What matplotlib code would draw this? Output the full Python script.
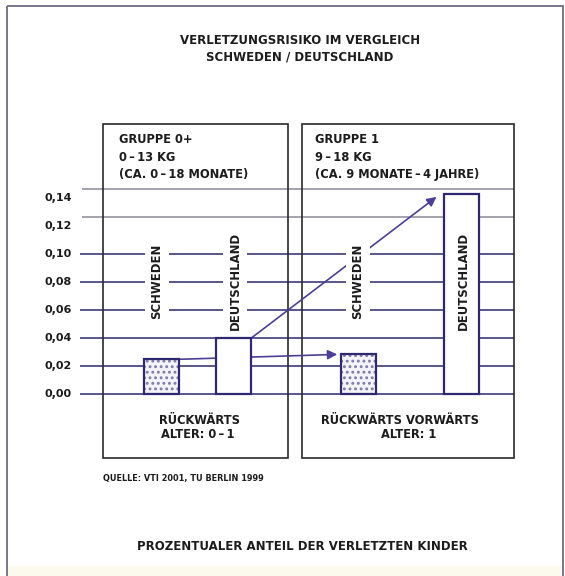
import matplotlib
matplotlib.use('Agg')
import matplotlib.pyplot as plt
from matplotlib.patches import Rectangle
from matplotlib.transforms import Affine2D

# data
groups = ['GRUPPE 0+', 'GRUPPE 1']
countries = ['SCHWEDEN', 'DEUTSCHLAND']
risk_g0 = [0.025, 0.040]
risk_g1 = [0.029, 0.143]
ticks = [0.00, 0.02, 0.04, 0.06, 0.08, 0.10, 0.12, 0.14]
tick_labels = ['0,00', '0,02', '0,04', '0,06', '0,08', '0,10', '0,12', '0,14']
group_info = [['GRUPPE 0+', '0\u2009–\u200913 KG', '(CA. 0\u2009–\u200918 MONATE)'],
              ['GRUPPE 1', '9\u2009–\u200918 KG', '(CA. 9 MONATE\u2009–\u20094 JAHRE)']]
group_foot = [['RÜCKWÄRTS', 'ALTER: 0\u2009–\u20091'],
              ['RÜCKWÄRTS VORWÄRTS', 'ALTER: 1']]
title = 'VERLETZUNGSRISIKO IM VERGLEICH\nSCHWEDEN / DEUTSCHLAND'
source = 'QUELLE: VTI 2001, TU BERLIN 1999'
subtitle = 'PROZENTUALER ANTEIL DER VERLETZTEN KINDER'

W, H = 565, 576
NAVY = '#2e2870'
ARROW = '#4b3f99'
DOTS = '#7d79ab'
INK = '#1c1c1c'
plt.rcParams['font.family'] = ['DejaVu Sans']
plt.rcParams['hatch.linewidth'] = 1.3

fig = plt.figure(figsize=(W / 100, H / 100), dpi=100)
ax = fig.add_axes([0, 0, 1, 1])
ax.set_xlim(0, W)
# y=0 at pixel row 394, 0.02 per 28 px
y0_px, step_px = 394.3, 28.0
ax.set_ylim(-(H - y0_px) / step_px * 0.02, y0_px / step_px * 0.02)
ax.axis('off')

# pixel coordinates (origin top left)
px = Affine2D().scale(1 / W, -1 / H).translate(0, 1) + fig.transFigure

# outer frame and faint bottom band
fig.patches.append(Rectangle((8, 566), 554, 12, transform=px, facecolor='#fbfaec',
                             edgecolor='none', zorder=0))
fig.patches.append(Rectangle((7, 6), 556, 580, transform=px, fill=False,
                             edgecolor='#6c6b86', lw=1.3, zorder=1))

# group panels
panels = [(103, 288), (302, 514)]
for (x0, x1) in panels:
    ax.add_patch(Rectangle((x0, 124), x1 - x0, 334, transform=px, fill=False,
                           edgecolor='#2a2a2a', lw=1.2, zorder=2))

# grid lines; upper two drawn a bit higher and lighter as in the print
shift = 0.0068
for t, lab in zip(ticks, tick_labels):
    if t > 0.11:
        ax.hlines(t + shift, 82, 514, color='#8a8a98', lw=1.1, zorder=1)
    else:
        ax.hlines(t, 80, 514, color=NAVY, lw=1.1, zorder=1)
    ax.text(72, t, lab, ha='right', va='center', fontsize=8.0,
            fontweight='bold', color=INK)

# bars
centers = [[161.5, 233.5], [358.7, 461.0]]
bar_w = 35
series = [risk_g0, risk_g1]
for gi, vals in enumerate(series):
    for ci, v in enumerate(vals):
        if ci == 0:
            # dotted fill first, then the outline on top
            ax.bar(centers[gi][ci], v, width=bar_w, facecolor='#f4f3fa',
                   edgecolor=DOTS, hatch='...', lw=0, zorder=3)
            ax.bar(centers[gi][ci], v, width=bar_w, fill=False,
                   edgecolor=NAVY, lw=1.6, zorder=3.1)
        else:
            ax.bar(centers[gi][ci], v, width=bar_w, facecolor='white',
                   edgecolor=NAVY, lw=1.6, zorder=3)

# vertical country labels
label_x = [[157, 235], [358, 463]]
for gi in range(2):
    for ci, name in enumerate(countries):
        ax.text(label_x[gi][ci], 281, name, transform=px, rotation=90,
                ha='center', va='center', fontsize=8.4, fontweight='bold',
                color=INK, zorder=5,
                bbox=dict(boxstyle='square,pad=0.45', facecolor='white',
                          edgecolor='none'))

# arrows from group 0+ to group 1
for ci in range(2):
    x_start = centers[0][ci] + bar_w / 2
    x_end = centers[1][ci] - bar_w / 2 - (4 if ci == 0 else 7)
    y_end = risk_g1[ci] - (0.0005 if ci == 0 else 0.002)
    ax.annotate('', xy=(x_end, y_end), xytext=(x_start, risk_g0[ci]),
                arrowprops=dict(arrowstyle='-|>', color=ARROW, lw=1.2,
                                mutation_scale=14, shrinkA=0, shrinkB=0),
                zorder=2.5)

# panel texts
info_x = [119, 315]
for gi in range(2):
    for li, line in enumerate(group_info[gi]):
        ax.text(info_x[gi], [139.5, 157.3, 174.3][li], line, transform=px,
                ha='left', va='center', fontsize=8.3, fontweight='bold',
                color=INK)
foot_x = [[200, 198], [400, 409]]
for gi in range(2):
    for li, line in enumerate(group_foot[gi]):
        ax.text(foot_x[gi][li], [421, 434.5][li], line, transform=px,
                ha='center', va='center', fontsize=8.3, fontweight='bold',
                color=INK)

# titles
fig.text(300, 48.5, title, transform=px, ha='center', va='center',
         fontsize=8.5, fontweight='bold', color=INK, linespacing=1.35)
fig.text(103, 478, source, transform=px, ha='left', va='center',
         fontsize=5.9, fontweight='bold', color=INK)
fig.text(302.5, 547, subtitle, transform=px, ha='center', va='center',
         fontsize=8.5, fontweight='bold', color=INK)

fig.savefig('out.png', dpi=100, facecolor='white')
